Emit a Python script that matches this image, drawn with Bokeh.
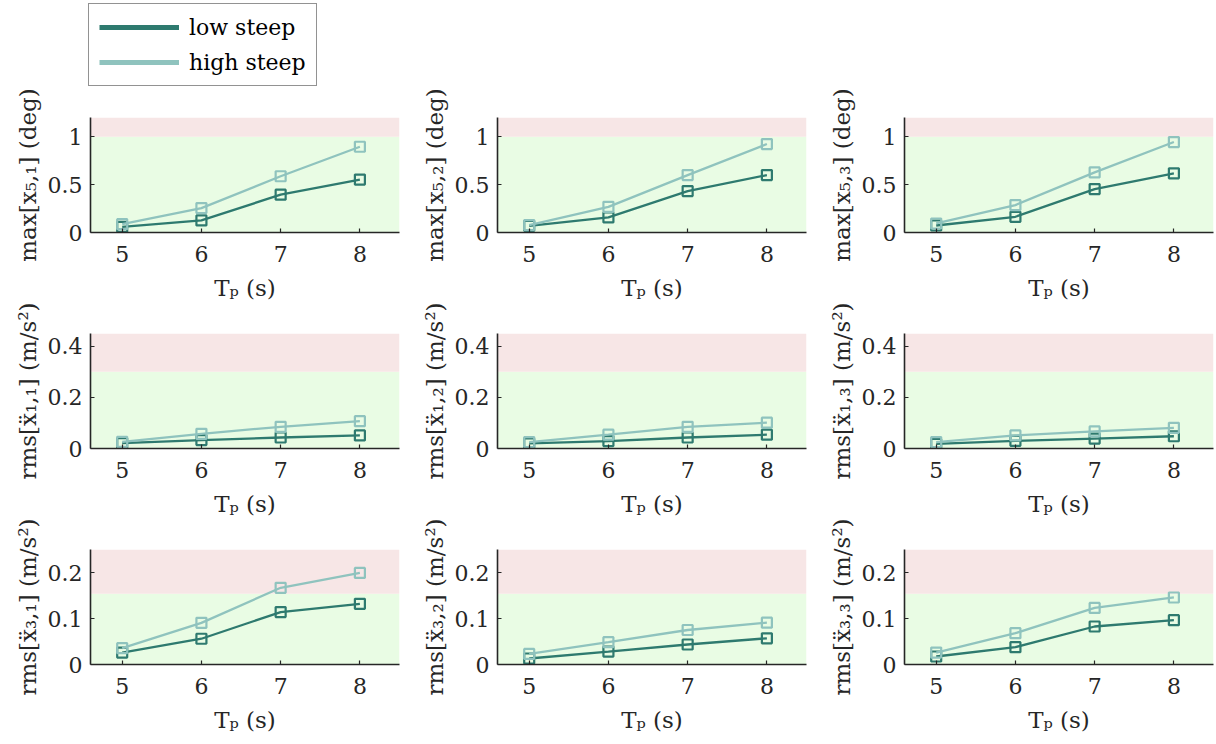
from bokeh.plotting import figure
from bokeh.models import (BoxAnnotation, Legend, ColumnDataSource,
                          NumeralTickFormatter, FixedTicker, Range1d)
from bokeh.layouts import row, column
from bokeh.embed import file_html
from bokeh.resources import INLINE

# ---------------- data ----------------
tp = [5, 6, 7, 8]
x_ticks = [5, 6, 7, 8]

max_x51_low = [0.059, 0.126, 0.395, 0.552]
max_x51_high = [0.087, 0.255, 0.587, 0.895]
max_x52_low = [0.070, 0.157, 0.432, 0.599]
max_x52_high = [0.077, 0.268, 0.599, 0.923]
max_x53_low = [0.073, 0.164, 0.453, 0.617]
max_x53_high = [0.094, 0.286, 0.627, 0.944]

rms_a11_low = [0.021, 0.033, 0.043, 0.051]
rms_a11_high = [0.026, 0.0575, 0.085, 0.107]
rms_a12_low = [0.020, 0.029, 0.043, 0.054]
rms_a12_high = [0.025, 0.054, 0.085, 0.101]
rms_a13_low = [0.018, 0.030, 0.039, 0.048]
rms_a13_high = [0.025, 0.051, 0.067, 0.081]

rms_a31_low = [0.026, 0.056, 0.114, 0.132]
rms_a31_high = [0.0355, 0.0906, 0.1667, 0.199]
rms_a32_low = [0.013, 0.028, 0.0435, 0.057]
rms_a32_high = [0.023, 0.0485, 0.075, 0.091]
rms_a33_low = [0.0174, 0.0377, 0.0826, 0.0964]
rms_a33_high = [0.026, 0.068, 0.123, 0.1457]

series_names = ["low steep", "high steep"]

row_lows = [[max_x51_low, max_x52_low, max_x53_low],
            [rms_a11_low, rms_a12_low, rms_a13_low],
            [rms_a31_low, rms_a32_low, rms_a33_low]]
row_highs = [[max_x51_high, max_x52_high, max_x53_high],
             [rms_a11_high, rms_a12_high, rms_a13_high],
             [rms_a31_high, rms_a32_high, rms_a33_high]]

y_labels = [["max[x₅,₁] (deg)", "max[x₅,₂] (deg)", "max[x₅,₃] (deg)"],
            ["rms[ẍ₁,₁] (m/s²)", "rms[ẍ₁,₂] (m/s²)", "rms[ẍ₁,₃] (m/s²)"],
            ["rms[ẍ₃,₁] (m/s²)", "rms[ẍ₃,₂] (m/s²)", "rms[ẍ₃,₃] (m/s²)"]]
x_label = "Tₚ (s)"

y_limits = [(0, 1.2), (0, 0.45), (0, 0.25)]
y_tick_sets = [[0, 0.5, 1], [0, 0.2, 0.4], [0, 0.1, 0.2]]
thresholds = [1.0, 0.3, 0.154]
x_limits = (4.6, 8.5)

# ---------------- style ----------------
DARK = "#2E7A6F"
LIGHT = "#8FC3BE"
RED_BAND = "#F7E6E6"
GREEN_BAND = "#E9FCE4"
AX = "#262626"
FONT = "DejaVu Serif"

FRAME_W = 309
FRAME_H = 115
LEFT_B = 90
RIGHT_B = [8, 8, 3]
TOP_B = 30
BOT_B = 71


def make_panel(r, c):
    p = figure(frame_width=FRAME_W, frame_height=FRAME_H,
               min_border_left=LEFT_B, min_border_right=RIGHT_B[c],
               min_border_top=TOP_B, min_border_bottom=BOT_B,
               x_range=Range1d(*x_limits), y_range=Range1d(*y_limits[r]),
               toolbar_location=None, output_backend="svg")
    p.outline_line_color = None
    p.grid.visible = False
    p.background_fill_color = "white"

    p.add_layout(BoxAnnotation(top=thresholds[r], fill_color=GREEN_BAND,
                               fill_alpha=1, line_color=None, level="underlay"))
    p.add_layout(BoxAnnotation(bottom=thresholds[r], fill_color=RED_BAND,
                               fill_alpha=1, line_color=None, level="underlay"))

    for vals, col in ((row_lows[r][c], DARK), (row_highs[r][c], LIGHT)):
        src = ColumnDataSource(dict(x=tp, y=vals))
        p.line("x", "y", source=src, line_color=col, line_width=2.3)
        p.scatter("x", "y", source=src, marker="square", size=10,
                  line_color=col, line_width=2.2, fill_alpha=0)

    p.xaxis.ticker = FixedTicker(ticks=x_ticks)
    p.yaxis.ticker = FixedTicker(ticks=y_tick_sets[r])
    p.yaxis.formatter = NumeralTickFormatter(format="0.[0]")
    for ax in (p.xaxis[0], p.yaxis[0]):
        ax.axis_line_color = AX
        ax.axis_line_width = 1.6
        ax.major_tick_line_color = AX
        ax.major_tick_line_width = 1.2
        ax.major_tick_in = 4
        ax.major_tick_out = 0
        ax.minor_tick_line_color = None
        ax.major_label_text_font = FONT
        ax.major_label_text_font_size = "22px"
        ax.major_label_text_color = AX
        ax.axis_label_text_font = FONT
        ax.axis_label_text_font_size = "23px"
        ax.axis_label_text_font_style = "normal"
        ax.axis_label_text_color = AX
    p.xaxis.axis_label = x_label
    p.xaxis.major_label_standoff = 13
    p.xaxis.axis_label_standoff = 10
    p.yaxis.axis_label = y_labels[r][c]
    p.yaxis.major_label_standoff = 8
    p.yaxis.axis_label_standoff = 4
    return p


# ---------------- legend figure ----------------
lf = figure(width=400, height=87, x_range=Range1d(0, 1), y_range=Range1d(0, 1),
            x_axis_type=None, y_axis_type=None, min_border=0,
            toolbar_location=None, output_backend="svg")
lf.outline_line_color = None
lf.grid.visible = False
# legend proxies: series drawn outside the visible range of this small figure
src_low = ColumnDataSource(dict(x=tp, y=max_x51_low))
src_high = ColumnDataSource(dict(x=tp, y=max_x51_high))
r_low = lf.line("x", "y", source=src_low, line_color=DARK, line_width=5)
r_high = lf.line("x", "y", source=src_high, line_color=LIGHT, line_width=5)
legend = Legend(items=[(series_names[0], [r_low]), (series_names[1], [r_high])],
                location=(88, 1), margin=0, padding=10, spacing=9,
                glyph_width=80, glyph_height=26, label_height=26,
                label_standoff=10, label_text_font=FONT,
                label_text_font_size="22px", label_text_color="black",
                border_line_color=AX, border_line_width=1.5,
                background_fill_color="white", background_fill_alpha=1)
lf.add_layout(legend)

rows = []
for r in range(3):
    rows.append(row(*[make_panel(r, c) for c in range(3)]))

layout = column(lf, *rows)

open("out.html", "w").write(file_html(layout, INLINE))
